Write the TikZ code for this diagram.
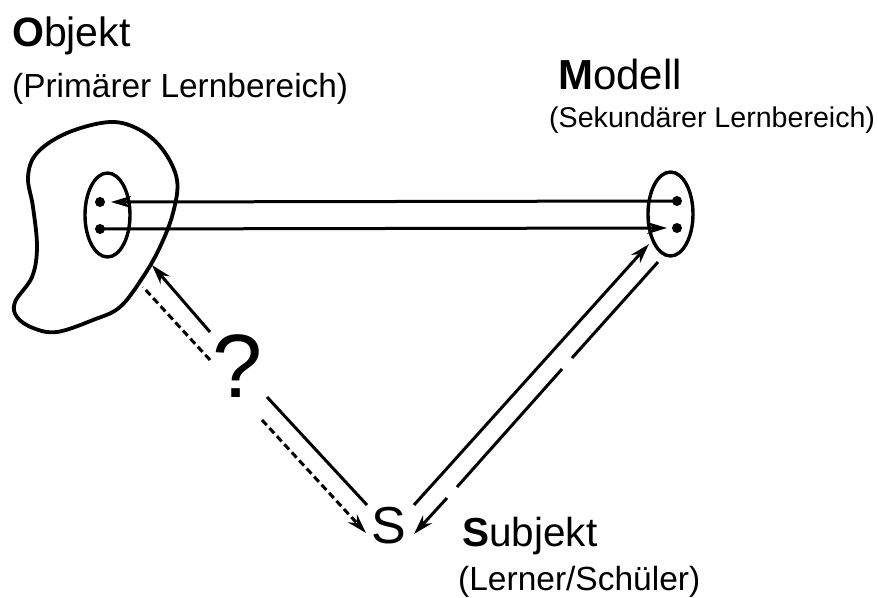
\documentclass[tikz,border=0pt]{standalone}
\usepackage{fontspec}
\setmainfont{Liberation Sans}
\usetikzlibrary{arrows.meta}
\begin{document}
\begin{tikzpicture}[x=1pt,y=-1pt,
  lbl/.style={anchor=base west,inner sep=0pt},
  ln/.style={line width=3pt},
  tip/.style={-{Stealth[length=20pt,width=12pt]}},
  dsh/.style={line width=3pt,dash pattern=on 7pt off 4pt},
  dotc/.style={circle,fill=black,inner sep=0pt,minimum size=10pt}]
\useasboundingbox (0,0) rectangle (878,597);
% labels
\node[lbl,font=\fontsize{41}{45}\selectfont] (obj) at (12,46) {\textbf{O}bjekt};
\node[lbl,font=\fontsize{33.4}{38}\selectfont] (objs) at (12,97) {(Primärer Lernbereich)};
\node[lbl,font=\fontsize{42}{46}\selectfont] (mod) at (558,89) {\textbf{M}odell};
\node[lbl,font=\fontsize{28.6}{33}\selectfont] (mods) at (549,127) {(Sekundärer Lernbereich)};
\node[lbl,font=\fontsize{40.5}{45}\selectfont] (sub) at (462,546) {\textbf{S}ubjekt};
\node[lbl,font=\fontsize{33.5}{38}\selectfont] (subs) at (458,590) {(Lerner/Schüler)};
% blob
\draw[line width=3.8pt] plot[smooth cycle,tension=0.6] coordinates {
 (110,122) (140,130) (163,150) (177,180) (173,213) (160,247) (143,277)
 (120,307) (93,320) (57,332) (33,328) (17,317) (15,302) (32,277)
 (37,247) (33,207) (28,177) (37,153) (67,133)};
% ellipses
\draw[line width=3.4pt] (107.5,215) ellipse [x radius=22.5,y radius=42];
\draw[line width=3.4pt] (670.5,214) ellipse [x radius=22.5,y radius=42];
\node[dotc] (l1) at (100,202) {};
\node[dotc] (l2) at (100,229) {};
\node[dotc] (r1) at (677,201) {};
\node[dotc] (r2) at (677,228) {};
\coordinate (lt) at (111,202);
\coordinate (rt) at (667,228);
\draw[ln,tip] (r1.center) -- (lt);
\draw[ln,tip] (l2.center) -- (rt);
% question mark and S
\node[inner sep=0pt,font=\fontsize{90}{95}\selectfont] (q) at (238,366) {?};
\node[inner sep=0pt,font=\fontsize{52}{56}\selectfont] (s) at (389,526) {S};
% left connectors
\coordinate (a1s) at (210,332); \coordinate (a1e) at (152,265);
\draw[ln,tip] (a1s) -- (a1e);
\coordinate (d1s) at (210,360); \coordinate (d1e) at (143,287);
\draw[dsh] (d1s) -- (d1e);
\coordinate (b1s) at (267,397); \coordinate (b1e) at (367,505);
\draw[ln] (b1s) -- (b1e);
\coordinate (d2s) at (262,420); \coordinate (d2e) at (366,533);
\draw[dsh,tip] (d2s) -- (d2e);
% right connectors
\coordinate (u1s) at (414,505); \coordinate (u1e) at (649,244);
\draw[ln,tip] (u1s) -- (u1e);
\coordinate (w1) at (658,262); \coordinate (w2) at (572,358);
\coordinate (w3) at (562,369); \coordinate (w4) at (457,487);
\coordinate (w5) at (447,498); \coordinate (w6) at (414,534);
\draw[ln] (w1) -- (w2);
\draw[ln] (w3) -- (w4);
\draw[ln,tip] (w5) -- (w6);
\end{tikzpicture}
\end{document}
